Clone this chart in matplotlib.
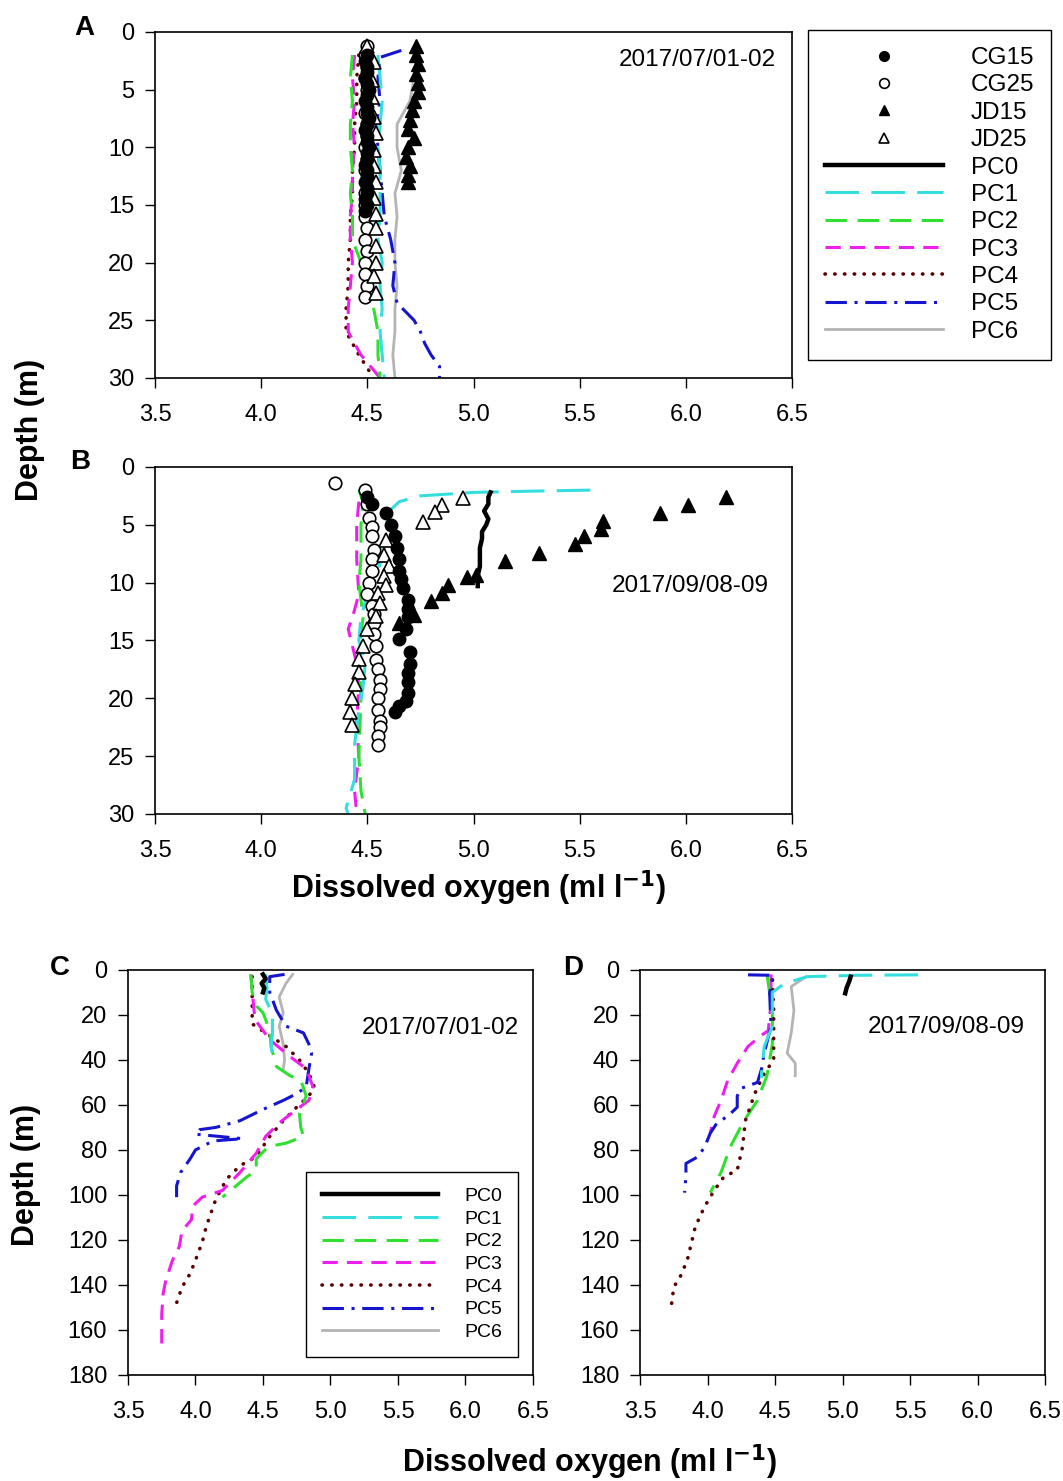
import matplotlib
matplotlib.use('Agg')
import matplotlib.pyplot as plt
from matplotlib.lines import Line2D

plt.rcParams['font.family'] = ['Liberation Sans', 'DejaVu Sans']

# ---- panel A (2017/07/01-02, 0-30 m) ----
a_cg15_depth = [2.0, 2.5, 3.0, 3.5, 4.0, 4.5, 5.0, 5.5, 6.0, 6.5, 7.0, 7.5, 8.0, 8.5, 9.0, 9.5, 10.0,
                10.5, 11.0, 11.5, 12.0, 12.5, 13.0, 13.5, 14.0, 14.5, 15.0, 15.5]
a_cg15_do = [4.50, 4.49, 4.50, 4.50, 4.49, 4.50, 4.51, 4.50, 4.49, 4.50, 4.50, 4.51, 4.50, 4.49, 4.50, 4.50,
             4.51, 4.50, 4.50, 4.49, 4.50, 4.50, 4.49, 4.50, 4.50, 4.49, 4.50, 4.49]
a_cg25_depth = [1.2, 2.0, 3.0, 4.0, 5.0, 6.0, 7.0, 8.0, 9.0, 10.0, 11.0, 12.0, 13.0, 14.0, 15.0, 16.0,
                17.0, 18.0, 19.0, 20.0, 21.0, 22.0, 23.0]
a_cg25_do = [4.50, 4.49, 4.50, 4.49, 4.50, 4.50, 4.49, 4.50, 4.50, 4.49, 4.50, 4.49, 4.50, 4.49, 4.49,
             4.49, 4.50, 4.49, 4.50, 4.49, 4.49, 4.50, 4.49]
a_jd15_depth = [1.2, 2.0, 2.8, 3.6, 4.4, 5.2, 6.0, 6.8, 7.6, 8.4, 9.2, 10.0, 10.8, 11.6, 12.4, 13.0]
a_jd15_do = [4.73, 4.73, 4.74, 4.73, 4.74, 4.74, 4.72, 4.71, 4.70, 4.69, 4.72, 4.69, 4.68, 4.70, 4.69, 4.69]
a_jd25_depth = [1.2, 2.6, 4.2, 5.6, 7.4, 8.8, 10.2, 11.6, 13.0, 14.4, 15.8, 17.0, 18.6, 20.0, 21.2, 22.6]
a_jd25_do = [4.50, 4.53, 4.52, 4.52, 4.53, 4.54, 4.53, 4.53, 4.54, 4.53, 4.54, 4.54, 4.54, 4.54, 4.53, 4.54]

a_pc0_depth = [2, 4, 6, 8, 10, 12, 14, 15]
a_pc0_do = [4.50, 4.49, 4.50, 4.50, 4.51, 4.50, 4.50, 4.50]
a_pc1_depth = [2, 4, 6, 8, 10, 12, 14, 16, 18, 20, 22, 24, 26, 28, 30]
a_pc1_do = [4.55, 4.56, 4.57, 4.56, 4.55, 4.56, 4.56, 4.56, 4.55, 4.57, 4.56, 4.57, 4.56, 4.57, 4.58]
a_pc2_depth = [2, 4, 6, 8, 10, 12, 14, 16, 18, 20, 22, 24, 26, 28, 30]
a_pc2_do = [4.43, 4.42, 4.43, 4.42, 4.42, 4.43, 4.42, 4.43, 4.43, 4.47, 4.50, 4.53, 4.55, 4.55, 4.56]
a_pc3_depth = [2, 4, 6, 8, 10, 12, 14, 16, 18, 20, 22, 24, 26, 28, 30]
a_pc3_do = [4.44, 4.43, 4.44, 4.43, 4.44, 4.43, 4.43, 4.42, 4.42, 4.43, 4.42, 4.41, 4.41, 4.47, 4.56]
a_pc4_depth = [2, 4, 6, 8, 10, 12, 14, 16, 18, 20, 22, 24, 26, 28, 30]
a_pc4_do = [4.46, 4.45, 4.45, 4.44, 4.44, 4.43, 4.43, 4.42, 4.42, 4.41, 4.41, 4.40, 4.40, 4.46, 4.53]
a_pc5_depth = [1.6, 2.2, 4, 6, 8, 10, 12, 14, 16, 18, 20, 22, 23.5, 25, 26, 27, 28, 29, 30]
a_pc5_do = [4.66, 4.56, 4.55, 4.56, 4.54, 4.55, 4.56, 4.57, 4.58, 4.61, 4.63, 4.62, 4.64, 4.72, 4.75, 4.77, 4.80, 4.84, 4.84]
a_pc6_depth = [2, 4, 6, 8, 10, 12, 14, 16, 18, 20, 22, 24, 26, 28, 30]
a_pc6_do = [4.73, 4.72, 4.70, 4.64, 4.64, 4.66, 4.63, 4.64, 4.63, 4.63, 4.64, 4.63, 4.63, 4.62, 4.63]

# ---- panel B (2017/09/08-09, 0-30 m) ----
b_cg15_depth = [2.6, 3.2, 4.0, 5.0, 6.0, 7.0, 8.0, 9.0, 9.7, 10.5, 11.5, 12.3, 13.0, 14.0, 14.9, 16.0,
                17.0, 17.8, 18.6, 19.5, 20.2, 20.7, 21.2]
b_cg15_do = [4.50, 4.52, 4.59, 4.61, 4.63, 4.64, 4.65, 4.65, 4.66, 4.67, 4.69, 4.69, 4.69, 4.68, 4.65,
             4.70, 4.70, 4.69, 4.69, 4.69, 4.68, 4.65, 4.63]
b_cg25_depth = [1.4, 2.0, 3.2, 4.4, 5.2, 6.0, 7.2, 8.0, 9.0, 10.0, 11.0, 12.0, 12.7, 13.5, 14.4, 15.5,
                16.7, 17.5, 18.4, 19.2, 20.0, 21.0, 22.0, 22.5, 23.3, 24.0]
b_cg25_do = [4.35, 4.49, 4.50, 4.51, 4.52, 4.52, 4.53, 4.52, 4.52, 4.51, 4.50, 4.52, 4.53, 4.53, 4.53,
             4.54, 4.54, 4.55, 4.56, 4.56, 4.55, 4.55, 4.56, 4.56, 4.55, 4.55]
b_jd15_depth = [2.6, 3.3, 4.0, 4.7, 5.4, 6.0, 6.7, 7.4, 8.1, 9.3, 9.5, 10.2, 10.9, 11.6, 12.8, 13.5]
b_jd15_do = [6.19, 6.01, 5.88, 5.61, 5.60, 5.52, 5.48, 5.31, 5.15, 5.01, 4.97, 4.88, 4.85, 4.80, 4.72, 4.65]
b_jd25_depth = [2.7, 3.3, 3.9, 4.75, 6.3, 7.6, 8.6, 9.4, 10.2, 10.9, 11.8, 12.9, 14.0, 15.5, 16.6, 17.7,
                18.8, 20.0, 21.2, 22.3]
b_jd25_do = [4.95, 4.85, 4.82, 4.76, 4.59, 4.58, 4.60, 4.58, 4.59, 4.55, 4.56, 4.54, 4.50, 4.48, 4.46,
             4.46, 4.44, 4.43, 4.42, 4.43]

b_pc0_depth = [2.2, 2.6, 3.2, 3.8, 4.5, 5.0, 5.6, 6.2, 7.0, 7.8, 8.6, 9.4, 10.3]
b_pc0_do = [5.08, 5.07, 5.07, 5.05, 5.07, 5.06, 5.04, 5.04, 5.03, 5.03, 5.03, 5.02, 5.02]
b_pc1_depth = [2.0, 2.1, 2.2, 2.5, 3.0, 3.7, 5, 7, 9, 11, 13, 15, 17, 19, 21, 24, 27, 29.5, 30]
b_pc1_do = [5.55, 5.25, 5.00, 4.75, 4.65, 4.61, 4.59, 4.58, 4.55, 4.50, 4.47, 4.46, 4.49, 4.48, 4.46,
            4.44, 4.44, 4.40, 4.41]
b_pc2_depth = [2, 3, 5, 8, 10, 13, 16, 20, 25, 28, 30]
b_pc2_do = [4.46, 4.48, 4.47, 4.47, 4.46, 4.48, 4.46, 4.47, 4.46, 4.47, 4.49]
b_pc3_depth = [3, 5, 8, 11, 13, 14, 15.5, 17, 19, 22, 25, 28, 30]
b_pc3_do = [4.46, 4.45, 4.45, 4.46, 4.43, 4.41, 4.43, 4.45, 4.46, 4.45, 4.46, 4.44, 4.45]

# ---- panel C (2017/07/01-02, full depth) ----
c_pc0_depth = [2, 4, 6, 8, 10]
c_pc0_do = [4.50, 4.52, 4.49, 4.51, 4.50]
c_pc1_depth = [2, 8, 13, 17, 21, 28, 34, 38.5, 40]
c_pc1_do = [4.52, 4.53, 4.52, 4.55, 4.57, 4.57, 4.56, 4.57, 4.54]
c_pc2_depth = [2, 10, 16, 19, 27, 34, 43, 47, 49, 56, 64, 70, 74, 77, 78.5, 84, 89, 92, 96, 101]
c_pc2_do = [4.41, 4.42, 4.45, 4.50, 4.55, 4.56, 4.60, 4.70, 4.78, 4.82, 4.77, 4.78, 4.80, 4.67, 4.54,
            4.45, 4.45, 4.38, 4.30, 4.20]
c_pc3_depth = [2, 9, 22, 31, 38.5, 43, 47, 52, 58, 62, 68, 74, 81.5, 90, 98, 101, 105, 111, 116, 123,
               129, 138, 144, 153, 159, 166]
c_pc3_do = [4.41, 4.42, 4.44, 4.55, 4.70, 4.80, 4.84, 4.87, 4.84, 4.75, 4.62, 4.52, 4.45, 4.33, 4.20,
            4.05, 3.98, 3.97, 3.90, 3.88, 3.83, 3.78, 3.76, 3.75, 3.75, 3.75]
c_pc4_depth = [3, 13, 24, 28, 34, 40, 46, 52, 56, 61, 67, 74, 83, 87, 93, 102, 114, 121, 129, 135, 141, 148]
c_pc4_do = [4.42, 4.42, 4.42, 4.52, 4.67, 4.77, 4.84, 4.88, 4.84, 4.75, 4.65, 4.55, 4.45, 4.33, 4.23,
            4.15, 4.08, 4.05, 4.00, 3.96, 3.90, 3.86]
c_pc5_depth = [2, 3, 10, 18, 25, 28, 33, 37, 44, 52, 55, 58, 62, 67, 70, 71, 73, 75, 76, 80, 84, 90, 96, 101]
c_pc5_do = [4.66, 4.55, 4.55, 4.60, 4.67, 4.80, 4.84, 4.86, 4.84, 4.82, 4.75, 4.65, 4.50, 4.33, 4.15,
            4.03, 4.00, 4.35, 4.13, 4.00, 3.96, 3.89, 3.86, 3.86]
c_pc6_depth = [2, 6, 12, 19, 25, 33, 40, 44]
c_pc6_do = [4.72, 4.67, 4.62, 4.65, 4.62, 4.65, 4.66, 4.65]

# ---- panel D (2017/09/08-09, full depth) ----
d_pc0_depth = [3, 5, 8, 10.4]
d_pc0_do = [5.06, 5.05, 5.03, 5.02]
d_pc1_depth = [2.2, 2.4, 3, 6, 10, 25, 34, 46, 48]
d_pc1_do = [5.56, 5.10, 4.74, 4.57, 4.48, 4.48, 4.42, 4.40, 4.40]
d_pc2_depth = [2, 18, 33, 47, 58, 67, 78.5, 90, 99]
d_pc2_do = [4.44, 4.48, 4.48, 4.44, 4.37, 4.27, 4.17, 4.10, 4.02]
d_pc3_depth = [2, 15, 27, 29, 34, 41.5, 49, 58, 65, 72.6]
d_pc3_do = [4.47, 4.47, 4.45, 4.40, 4.30, 4.22, 4.15, 4.10, 4.05, 4.02]
d_pc4_depth = [4.4, 18, 40, 46, 55, 67, 78.5, 89, 92, 98, 105, 114, 121.5, 129, 136, 141, 150]
d_pc4_do = [4.48, 4.49, 4.49, 4.42, 4.35, 4.28, 4.26, 4.22, 4.12, 4.05, 3.98, 3.91, 3.88, 3.85, 3.80,
            3.75, 3.73]
d_pc5_depth = [2.2, 2.4, 10, 25, 37, 44, 50, 52.6, 56, 61, 65, 68, 72.6, 78.5, 83, 86, 92, 99]
d_pc5_do = [4.30, 4.49, 4.46, 4.47, 4.42, 4.40, 4.37, 4.25, 4.22, 4.22, 4.15, 4.07, 4.02, 3.98, 3.93,
            3.84, 3.84, 3.83]
d_pc6_depth = [3, 7.4, 18, 28, 37, 41.5, 47]
d_pc6_do = [4.73, 4.62, 4.64, 4.62, 4.59, 4.65, 4.65]

stations = ['CG15', 'CG25', 'JD15', 'JD25']
profiles = ['PC0', 'PC1', 'PC2', 'PC3', 'PC4', 'PC5', 'PC6']
x_ticks = [3.5, 4.0, 4.5, 5.0, 5.5, 6.0, 6.5]

line_styles = {
    'PC0': dict(color='black', lw=3.2, ls='-'),
    'PC1': dict(color='#35dede', lw=2.2, ls=(0, (11, 4))),
    'PC2': dict(color='#2fe02f', lw=2.2, ls=(0, (7, 3.5))),
    'PC3': dict(color='#ee1fee', lw=2.2, ls=(0, (5, 3))),
    'PC4': dict(color='#5c0000', lw=2.6, ls=(0, (0.1, 2.6)), dash_capstyle='round'),
    'PC5': dict(color='#1515d0', lw=2.2, ls=(0, (7, 2.5, 1, 2.5))),
    'PC6': dict(color='#b4b4b4', lw=2.0, ls='-'),
}
marker_styles = {
    'CG15': dict(marker='o', mfc='black', mec='black', ms=9),
    'CG25': dict(marker='o', mfc='white', mec='black', ms=9, mew=1.2),
    'JD15': dict(marker='^', mfc='black', mec='black', ms=10),
    'JD25': dict(marker='^', mfc='white', mec='black', ms=10, mew=1.2),
}

fig = plt.figure(figsize=(10.63, 14.81), dpi=100)
axA = fig.add_axes([0.1458, 0.7448, 0.5993, 0.2336])
axB = fig.add_axes([0.1458, 0.4504, 0.5993, 0.2343])
axC = fig.add_axes([0.1204, 0.0716, 0.381, 0.2735])
axD = fig.add_axes([0.6021, 0.0716, 0.381, 0.2735])


def style_axis(ax, ymax, ystep):
    ax.set_xlim(3.5, 6.5)
    ax.set_ylim(ymax, 0)
    ax.set_xticks(x_ticks)
    ax.set_xticklabels(['%.1f' % t for t in x_ticks])
    ax.set_yticks(list(range(0, ymax + 1, ystep)))
    ax.tick_params(direction='out', length=7, width=1, labelsize=17)
    ax.tick_params(axis='x', pad=12)
    ax.tick_params(axis='y', pad=8)
    for s in ax.spines.values():
        s.set_linewidth(1.2)


def draw_lines(ax, data):
    for name, depth, do in data:
        ax.plot(do, depth, **line_styles[name])


def draw_points(ax, data):
    for name, depth, do in data:
        ax.plot(do, depth, ls='none', **marker_styles[name])


draw_lines(axA, [('PC6', a_pc6_depth, a_pc6_do), ('PC5', a_pc5_depth, a_pc5_do),
                 ('PC4', a_pc4_depth, a_pc4_do), ('PC3', a_pc3_depth, a_pc3_do),
                 ('PC2', a_pc2_depth, a_pc2_do), ('PC1', a_pc1_depth, a_pc1_do),
                 ('PC0', a_pc0_depth, a_pc0_do)])
draw_points(axA, [('CG25', a_cg25_depth, a_cg25_do), ('JD25', a_jd25_depth, a_jd25_do),
                  ('CG15', a_cg15_depth, a_cg15_do), ('JD15', a_jd15_depth, a_jd15_do)])
style_axis(axA, 30, 5)
axA.text(0.851, 0.919, '2017/07/01-02', transform=axA.transAxes, ha='center', va='center', fontsize=17.5)

draw_lines(axB, [('PC3', b_pc3_depth, b_pc3_do), ('PC2', b_pc2_depth, b_pc2_do),
                 ('PC1', b_pc1_depth, b_pc1_do), ('PC0', b_pc0_depth, b_pc0_do)])
draw_points(axB, [('CG25', b_cg25_depth, b_cg25_do), ('JD25', b_jd25_depth, b_jd25_do),
                  ('CG15', b_cg15_depth, b_cg15_do), ('JD15', b_jd15_depth, b_jd15_do)])
style_axis(axB, 30, 5)
axB.text(0.84, 0.657, '2017/09/08-09', transform=axB.transAxes, ha='center', va='center', fontsize=17.5)

draw_lines(axC, [('PC6', c_pc6_depth, c_pc6_do), ('PC5', c_pc5_depth, c_pc5_do),
                 ('PC4', c_pc4_depth, c_pc4_do), ('PC3', c_pc3_depth, c_pc3_do),
                 ('PC2', c_pc2_depth, c_pc2_do), ('PC1', c_pc1_depth, c_pc1_do),
                 ('PC0', c_pc0_depth, c_pc0_do)])
style_axis(axC, 180, 20)
axC.text(0.77, 0.857, '2017/07/01-02', transform=axC.transAxes, ha='center', va='center', fontsize=17.5)

draw_lines(axD, [('PC6', d_pc6_depth, d_pc6_do), ('PC3', d_pc3_depth, d_pc3_do),
                 ('PC2', d_pc2_depth, d_pc2_do), ('PC4', d_pc4_depth, d_pc4_do),
                 ('PC5', d_pc5_depth, d_pc5_do), ('PC1', d_pc1_depth, d_pc1_do),
                 ('PC0', d_pc0_depth, d_pc0_do)])
style_axis(axD, 180, 20)
axD.text(0.755, 0.859, '2017/09/08-09', transform=axD.transAxes, ha='center', va='center', fontsize=17.5)

# legends
handles_top = [Line2D([], [], ls='none', **dict(marker_styles[s], ms=7)) for s in stations]
handles_top += [Line2D([], [], **line_styles[p]) for p in profiles]
legA = fig.legend(handles_top, stations + profiles, loc='upper left', bbox_to_anchor=(0.760, 0.9797),
                  fontsize=17.5, handlelength=4.85, handletextpad=1.15, labelspacing=0.22,
                  borderpad=0.7, borderaxespad=0, fancybox=False, edgecolor='black', framealpha=1)
legA.get_frame().set_linewidth(1.0)

handles_c = [Line2D([], [], **line_styles[p]) for p in profiles]
legC = axC.legend(handles_c, profiles, loc='upper left', bbox_to_anchor=(0.4395, 0.5012),
                  fontsize=14, handlelength=6.0, handletextpad=1.35, labelspacing=0.26,
                  borderpad=0.8, borderaxespad=0, fancybox=False, edgecolor='black', framealpha=1)
legC.get_frame().set_linewidth(1.0)

# panel letters and shared labels
for letter, x, y in [('A', 0.079, 0.981), ('B', 0.0753, 0.688), ('C', 0.0564, 0.3464), ('D', 0.539, 0.3464)]:
    fig.text(x, y, letter, fontsize=20, fontweight='bold', ha='center', va='center')

fig.text(0.028, 0.710, 'Depth (m)', rotation=90, fontsize=22, fontweight='bold', ha='center', va='center')
fig.text(0.024, 0.2066, 'Depth (m)', rotation=90, fontsize=22, fontweight='bold', ha='center', va='center')
fig.text(0.45, 0.4004, 'Dissolved oxygen (ml l$^{\\mathbf{-1}}$)', fontsize=22, fontweight='bold', ha='center', va='center')
fig.text(0.555, 0.0128, 'Dissolved oxygen (ml l$^{\\mathbf{-1}}$)', fontsize=22, fontweight='bold', ha='center', va='center')

plt.savefig('out.png', dpi=100)
